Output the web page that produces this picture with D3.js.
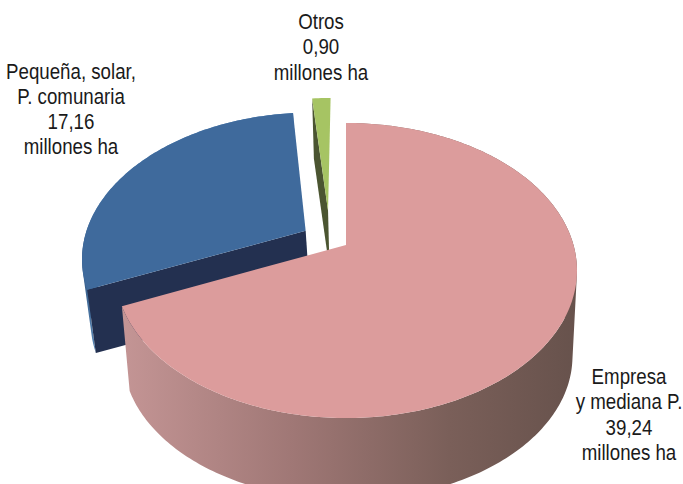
<!DOCTYPE html>
<html lang="es">
<head>
<meta charset="utf-8">
<title>Superficie por tipo de propiedad</title>
<script src="https://cdn.jsdelivr.net/npm/d3@7"></script>
<style>
  html, body { margin: 0; padding: 0; background: #fff; }
  svg { display: block; }
  text { font-family: "Liberation Sans", sans-serif; font-size: 22px; fill: #1a1a1a; }
</style>
</head>
<body>
<script>
// Land area by ownership type, in millions of hectares
const categories = ["Empresa y mediana P.", "Pequeña, solar, P. comunaria", "Otros"];
const values = [39.24, 17.16, 0.90];
const labelLines = [
  ["Empresa", "y mediana P."],
  ["Pequeña, solar,", "P. comunaria"],
  ["Otros"]
];
const unitLabel = "millones ha";

const topColors = ["#DC9C9C", "#3F6A9C", "#A6C463"];
const cutColors = ["#8a6868", "#233050", "#4B5531"];

const width = 683, height = 484;

// Tilted-disc projection: a point of the unit disc goes to the screen with a perspective divide
const disc = { cx: 346, cy: 245, a: 227.5, b: 143.1, k: -0.1729 };
const project = (u, v) => {
  const w = 1 + disc.k * v;
  return [disc.cx + disc.a * u / w, disc.cy + disc.b * v / w];
};

// The pie's walls converge towards a far vanishing point below it
const vanishX = [410, 522, 410];
const vanishY = 3449;
const thickness = [0.027, 0.02, 0.018];
const dropPoint = (p, i) => [
  vanishX[i] + (p[0] - vanishX[i]) * (1 - thickness[i]),
  vanishY + (p[1] - vanishY) * (1 - thickness[i])
];

// Each slice's radii, its pull out of the disc along the bisector, and a small extra shift
const radiusU = [1, 0.98, 1];
const radiusV = [1, 1, 1];
const explode = [0, 0.2, 0.25];
const nudgeU = [0, -0.008, -0.07];

const svg = d3.select("body").append("svg")
  .attr("width", width).attr("height", height)
  .attr("viewBox", [0, 0, width, height]);

const pie = d3.pie().sort(null).value(d => d);
const slices = pie(values).map((s, i) => {
  const mid = (s.startAngle + s.endAngle) / 2;
  const ou = Math.sin(mid) * explode[i] + nudgeU[i];
  const ov = -Math.cos(mid) * explode[i];
  const n = Math.max(4, Math.ceil((s.endAngle - s.startAngle) * 60));
  const rim = d3.range(n + 1).map(j => {
    const t = s.startAngle + (s.endAngle - s.startAngle) * j / n;
    return project(radiusU[i] * Math.sin(t) + ou, -radiusV[i] * Math.cos(t) + ov);
  });
  return { index: i, apex: project(ou, ov), rim, lowRim: rim.map(p => dropPoint(p, i)) };
});

const defs = svg.append("defs");
const wallGradient = defs.append("linearGradient")
  .attr("id", "wall-shade")
  .attr("gradientUnits", "userSpaceOnUse")
  .attr("x1", 122).attr("x2", 577).attr("y1", 0).attr("y2", 0);
wallGradient.selectAll("stop")
  .data([[0, "#C49595"], [0.38, "#9F7775"], [0.72, "#7A5F59"], [1, "#67524C"]])
  .join("stop")
  .attr("offset", d => d[0])
  .attr("stop-color", d => d[1]);
const blueWall = defs.append("linearGradient")
  .attr("id", "blue-wall-shade")
  .attr("gradientUnits", "userSpaceOnUse")
  .attr("x1", 82).attr("x2", 97).attr("y1", 0).attr("y2", 0);
blueWall.selectAll("stop")
  .data([[0, "#2F5480"], [1, "#5F8FBE"]])
  .join("stop")
  .attr("offset", d => d[0])
  .attr("stop-color", d => d[1]);

const closed = d3.line();

// Outer wall as a union of consistently wound quads, so the silhouette stays straight at the tangents
function wallPath(s) {
  let d = "";
  for (let j = 0; j < s.rim.length - 1; j++) {
    let q = [s.rim[j], s.rim[j + 1], s.lowRim[j + 1], s.lowRim[j]];
    if (d3.polygonArea(q) < 0) q = q.reverse();
    d += closed(q) + "Z";
  }
  return d;
}

function cutFace(s) {
  return [s.apex, s.rim[0], s.lowRim[0], dropPoint(s.apex, s.index)];
}

const wallFill = ["url(#wall-shade)", "url(#blue-wall-shade)", "none"];

// Painter's order: rear sliver first, the large front slice last
[slices[2], slices[1], slices[0]].forEach(s => {
  const g = svg.append("g").attr("class", "slice").attr("data-category", categories[s.index]);
  if (wallFill[s.index] !== "none") {
    g.append("path").attr("d", wallPath(s)).attr("fill", wallFill[s.index]);
  }
  if (s.index !== 0) {
    g.append("path").attr("d", closed(cutFace(s)) + "Z").attr("fill", cutColors[s.index]);
  }
  g.append("path")
    .attr("d", closed([s.apex, ...s.rim]) + "Z")
    .attr("fill", topColors[s.index]);
});

// Labels: name lines, the value with a decimal comma, then the unit, set in a condensed width
const valueText = v => v.toFixed(2).replace(".", ",");
const condense = 0.85;
const labelAnchors = [
  { x: 629, y: 384, step: 25.3 },
  { x: 71, y: 79, step: 25 },
  { x: 321, y: 29, step: 25.5 }
];
const labels = svg.append("g").attr("text-anchor", "middle");
labelLines.forEach((lines, i) => {
  const a = labelAnchors[i];
  const all = [...lines, valueText(values[i]), unitLabel];
  labels.append("text")
    .attr("transform", `translate(${a.x},0) scale(${condense},1)`)
    .selectAll("tspan")
    .data(all)
    .join("tspan")
    .attr("x", 0)
    .attr("y", (d, j) => a.y + j * a.step)
    .text(d => d);
});
</script>
</body>
</html>
